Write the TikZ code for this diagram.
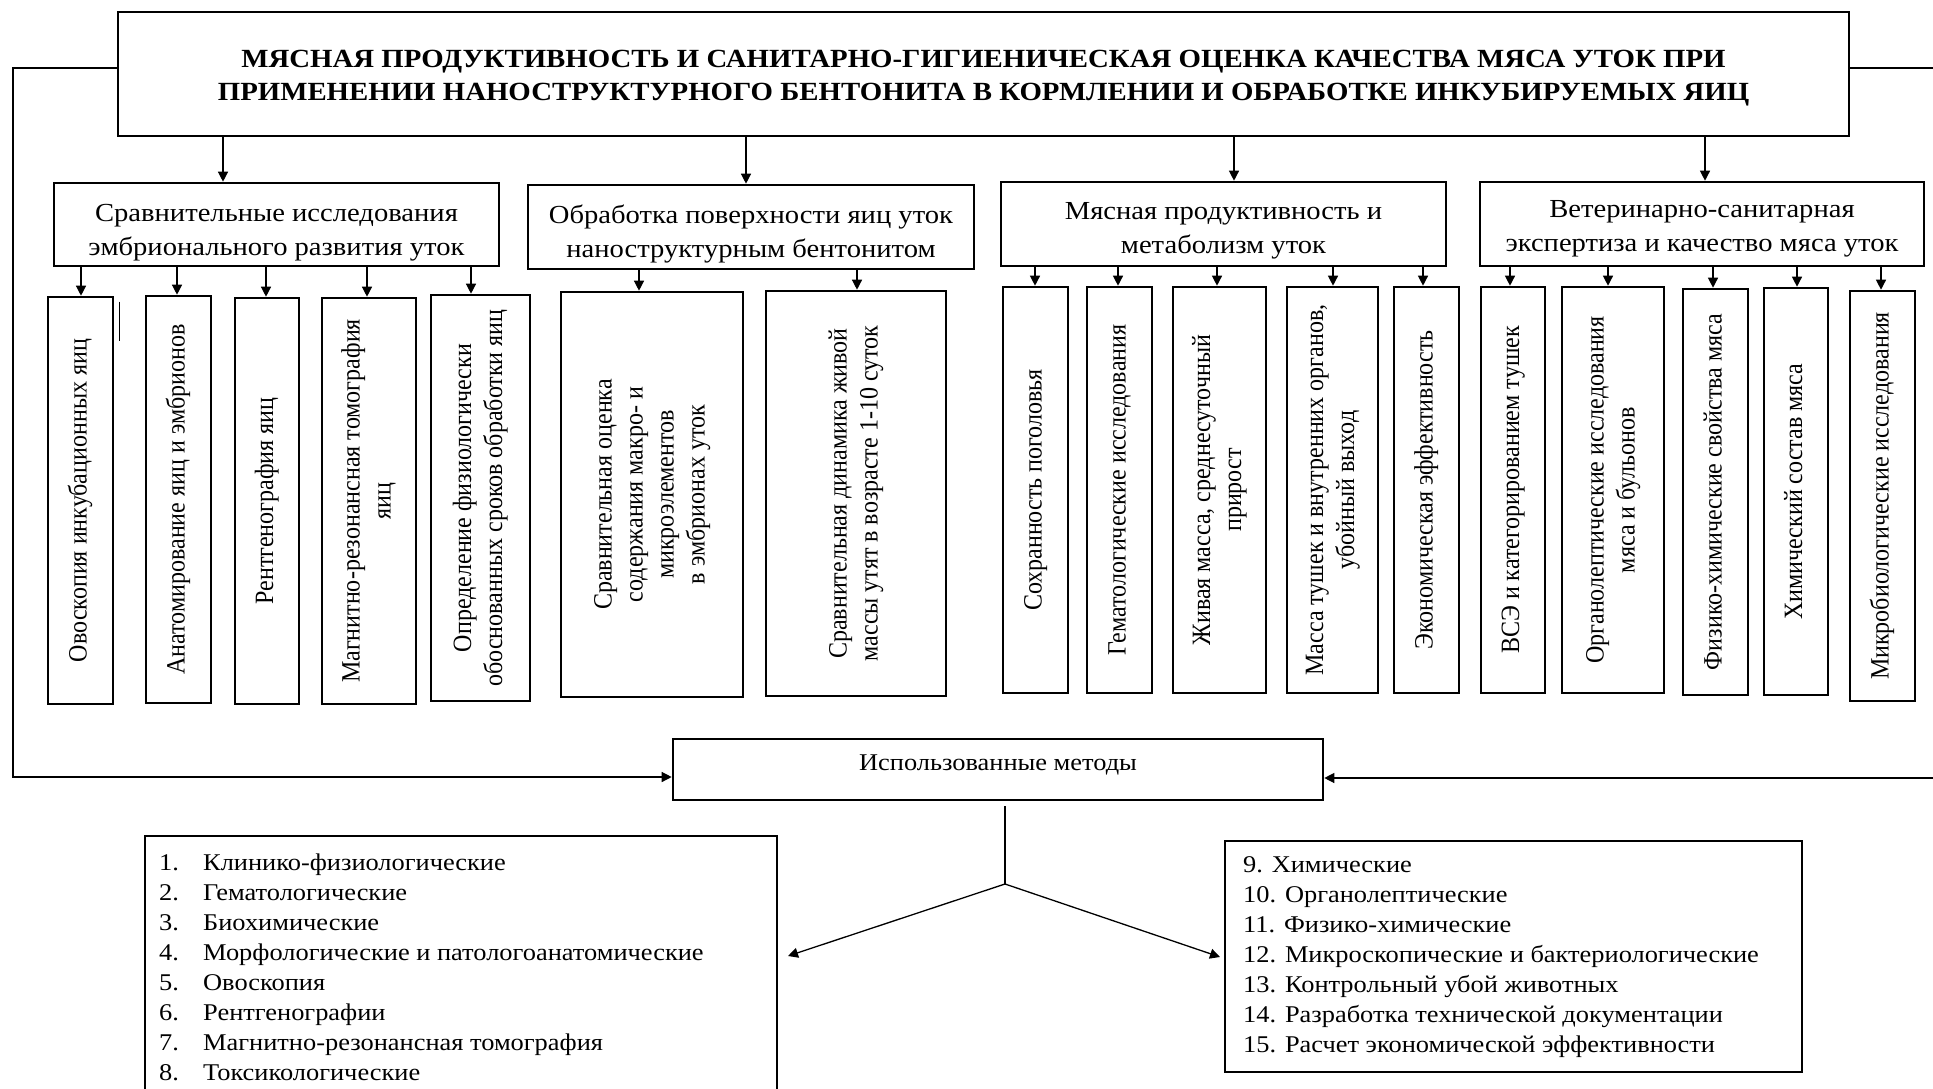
\documentclass[tikz,border=0pt]{standalone}
\usepackage{fontspec}
\setmainfont{Liberation Serif}
\newfontfamily\widefont{Liberation Serif}[FakeStretch=1.1]
\newfontfamily\narrowfont{Liberation Serif}[FakeStretch=0.91]
\usetikzlibrary{arrows.meta}
\newcommand{\fsz}[2]{\fontsize{#1}{#2}\selectfont}
\newcommand{\vtext}[1]{\rotatebox{90}{\begin{tabular}{@{}c@{}}#1\end{tabular}}}
\begin{document}
\begin{tikzpicture}[x=1pt,y=-1pt,
  box/.style={draw, line width=2.6pt, inner sep=0pt, align=center},
  ttext/.style={inner sep=0pt, align=center, font=\widefont\bfseries\fsz{26.2}{32.5}},
  htext/.style={inner sep=0pt, align=center, font=\widefont\fsz{26}{34}},
  vbox/.style={box, font=\narrowfont\fsz{26.4}{31}},
  lbox/.style={draw, line width=1.3pt, inner sep=0pt},
  ltext/.style={inner sep=0pt, font=\widefont\fsz{24}{30}},
  con/.style={line width=1.3pt},
  arr/.style={con, -{Triangle[length=10pt,width=10pt]}}]
\useasboundingbox (0,0) rectangle (1933,1089);
\clip (0,0) rectangle (1933,1089);
\fill[white] (0,0) rectangle (1933,1089);

% title
\node[box, minimum width=1731pt, minimum height=124pt] (T) at (983.5,74) {};
\node[ttext] (Ttxt) at ([yshift=-4pt]T.center)
  {МЯСНАЯ ПРОДУКТИВНОСТЬ И САНИТАРНО-ГИГИЕНИЧЕСКАЯ ОЦЕНКА КАЧЕСТВА МЯСА УТОК ПРИ\\
   ПРИМЕНЕНИИ НАНОСТРУКТУРНОГО БЕНТОНИТА В КОРМЛЕНИИ И ОБРАБОТКЕ ИНКУБИРУЕМЫХ ЯИЦ};

% level 2
\node[box, minimum width=445pt, minimum height=83pt] (A) at (276.5,224.5) {};
\node[box, minimum width=446pt, minimum height=84pt] (B) at (751,227) {};
\node[box, minimum width=445pt, minimum height=84pt] (C) at (1223.5,224) {};
\node[box, minimum width=444pt, minimum height=84pt] (D) at (1702,224) {};
\node[htext] (Atxt) at ([yshift=-8pt]A.center) {Сравнительные исследования\\эмбрионального развития уток};
\node[htext] (Btxt) at ([yshift=-6.5pt]B.center) {Обработка поверхности яиц уток\\наноструктурным бентонитом};
\node[htext] (Ctxt) at ([yshift=-6.5pt]C.center) {Мясная продуктивность и\\метаболизм уток};
\node[htext] (Dtxt) at ([yshift=-5pt]D.center) {Ветеринарно-санитарная\\экспертиза и качество мяса уток};

\foreach \x/\n in {223/A,746/B,1234/C,1705/D}
  \draw[arr] (T.south -| \x,0) -- (\x,0 |- \n.north);

% level 3
\node[vbox, minimum width=65pt, minimum height=407pt] (b1) at (80.5,500.5) {\vtext{Овоскопия инкубационных яиц}};
\node[vbox, minimum width=65pt, minimum height=407pt] (b2) at (178.5,499.5) {\vtext{Анатомирование яиц и эмбрионов}};
\node[vbox, minimum width=64pt, minimum height=406pt] (b3) at (267,501) {\vtext{Рентгенография яиц}};
\node[vbox, minimum width=94pt, minimum height=406pt] (b4) at (369,501) {\vtext{Магнитно-резонансная томография\\яиц}};
\node[vbox, minimum width=99pt, minimum height=406pt] (b5) at (480.5,498) {\vtext{Определение физиологически\\обоснованных сроков обработки яиц}};
\node[vbox, minimum width=182pt, minimum height=405pt] (b6) at (652,494.5) {\vtext{Сравнительная оценка\\содержания макро- и\\микроэлементов\\в эмбрионах уток}};
\node[vbox, minimum width=180pt, minimum height=405pt] (b7) at (856,493.5) {\vtext{Сравнительная динамика живой\\массы утят в возрасте 1-10 суток}};
\node[vbox, minimum width=65pt, minimum height=406pt] (b8) at (1035.5,490) {\vtext{Сохранность поголовья}};
\node[vbox, minimum width=65pt, minimum height=406pt] (b9) at (1119.5,490) {\vtext{Гематологические исследования}};
\node[vbox, minimum width=93pt, minimum height=406pt] (b10) at (1219.5,490) {\vtext{Живая масса, среднесуточный\\прирост}};
\node[vbox, minimum width=91pt, minimum height=406pt] (b11) at (1332.5,490) {\vtext{Масса тушек и внутренних органов,\\убойный выход}};
\node[vbox, minimum width=65pt, minimum height=406pt] (b12) at (1426.5,490) {\vtext{Экономическая эффективность}};
\node[vbox, minimum width=64pt, minimum height=406pt] (b13) at (1513,490) {\vtext{ВСЭ и категорированием тушек}};
\node[vbox, minimum width=102pt, minimum height=406pt] (b14) at (1613,490) {\vtext{Органолептические исследования\\мяса и бульонов}};
\node[vbox, minimum width=65pt, minimum height=406pt] (b15) at (1715.5,492) {\vtext{Физико-химические свойства мяса}};
\node[vbox, minimum width=64pt, minimum height=407pt] (b16) at (1796,491.5) {\vtext{Химический состав мяса}};
\node[vbox, minimum width=65pt, minimum height=410pt] (b17) at (1882.5,496) {\vtext{Микробиологические исследования}};

\foreach \x/\p/\n in {81/A/b1,177/A/b2,266/A/b3,367/A/b4,471/A/b5,
                      639/B/b6,857/B/b7,
                      1035/C/b8,1118/C/b9,1217/C/b10,1333/C/b11,1423/C/b12,
                      1510/D/b13,1608/D/b14,1713/D/b15,1797/D/b16,1881/D/b17}
  \draw[arr] (\p.south -| \x,0) -- (\x,0 |- \n.north);

% stray mark
\draw[line width=1.5pt] ([xshift=5pt,yshift=-6pt]b1.north east) -- ++(0,39);

% methods box
\node[box, font=\widefont\fsz{24}{30}, minimum width=650pt, minimum height=61pt, text depth=13pt] (M) at (998,769.5)
  {Использованные методы};

% feedback lines
\draw[arr] ([yshift=6pt]T.west) -| (13,777) -- (M.west |- 13,777);
\draw[arr] ([yshift=6pt]T.east) -- (1960,68) -- (1960,778) -- (M.east |- 1960,778);

% lists
\node[lbox, minimum width=632pt, minimum height=300pt] (L) at (461,986) {};
\node[lbox, minimum width=577pt, minimum height=231pt] (R) at (1513.5,956.5) {};

\node[ltext, anchor=base west] (Ltxt) at (159,870) {\begin{tabular}[t]{@{}p{44pt}@{}l@{}}
1. & Клинико-физиологические\\
2. & Гематологические\\
3. & Биохимические\\
4. & Морфологические и патологоанатомические\\
5. & Овоскопия\\
6. & Рентгенографии\\
7. & Магнитно-резонансная томография\\
8. & Токсикологические
\end{tabular}};
\node[ltext, anchor=base west] (Rtxt) at (1243,872) {\begin{tabular}[t]{@{}l@{}}
9. Химические\\
10. Органолептические\\
11. Физико-химические\\
12. Микроскопические и бактериологические\\
13. Контрольный убой животных\\
14. Разработка технической документации\\
15. Расчет экономической эффективности
\end{tabular}};

% fork
\coordinate (stemtop) at (1005,806);
\coordinate (fork) at (1005,884);
\coordinate (ltip) at (788,956);
\coordinate (rtip) at (1220,957);
\draw[con] (stemtop) -- (fork);
\draw[arr] (fork) -- (ltip);
\draw[arr] (fork) -- (rtip);
\end{tikzpicture}
\end{document}
